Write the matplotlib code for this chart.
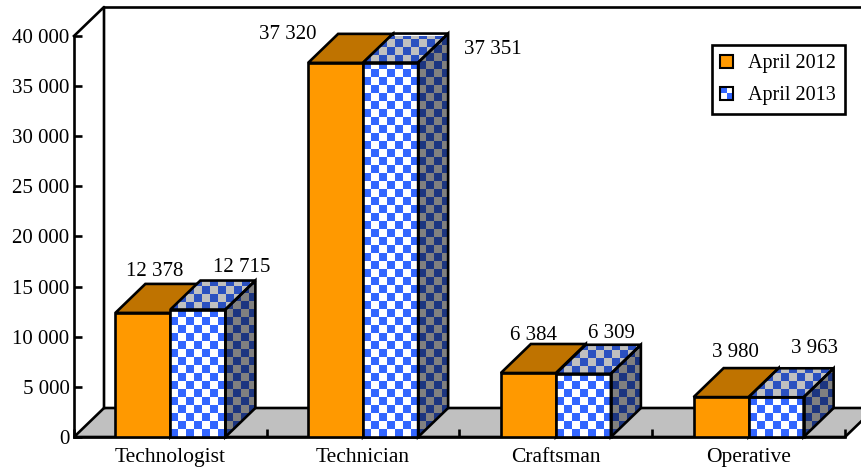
import matplotlib
matplotlib.use('Agg')
import matplotlib.pyplot as plt
from matplotlib.collections import PolyCollection
from matplotlib.legend_handler import HandlerBase
from matplotlib.patches import Patch, Polygon, Rectangle

categories = ['Technologist', 'Technician', 'Craftsman', 'Operative']
april_2012 = [12378, 37320, 6384, 3980]
april_2013 = [12715, 37351, 6309, 3963]
yticks = [0, 5000, 10000, 15000, 20000, 25000, 30000, 35000, 40000]
# label offsets from the front top corner of each bar, in pixels
off_2012 = [(39, 41), (-20, 28), (33, 38), (42, 45)]
off_2013 = [(16, 42), (75, 13), (1, 40), (11, 49)]

plt.rcParams['font.family'] = ['Liberation Serif', 'DejaVu Serif']
W, H = 861, 468
fig = plt.figure(figsize=(W / 100, H / 100), dpi=100)
# axes = front frame of the 3d box, in pixels
L, R, B, T = 74, 845, 437, 36
ax = fig.add_axes([L / W, (H - B) / H, (R - L) / W, (B - T) / H])
ax.set_xlim(0, 4)
ax.set_ylim(0, 40000)
px = 4 / (R - L)
py = 40000 / (B - T)
dx, dy = 30 * px, 29 * py
LW = 1.9

for s in ['top', 'right']:
    ax.spines[s].set_visible(False)
for s in ['left', 'bottom']:
    ax.spines[s].set_linewidth(LW)

# floor and back wall
ax.add_patch(Polygon([(0, 0), (dx, dy), (4 + dx, dy), (4, 0)], fc='#c0c0c0', ec='k', lw=LW,
                     clip_on=False, zorder=1, joinstyle='miter'))
ax.plot([0, dx, dx], [40000, 40000 + dy, dy], color='k', lw=LW, clip_on=False, zorder=1.5)
ax.plot([dx, 4 + dx], [40000 + dy, 40000 + dy], color='k', lw=LW, clip_on=False, zorder=1.5)

ax.set_yticks(yticks)
ax.set_yticklabels([f'{v:,}'.replace(',', ' ') for v in yticks])
ax.tick_params(axis='y', direction='in', length=6, width=LW, labelsize=15, pad=3.2)
ax.set_xticks([0, 1, 2, 3, 4])
ax.set_xticklabels([])
ax.tick_params(axis='x', direction='in', length=6, width=LW)
ax.set_xticks([0.5, 1.5, 2.5, 3.5], minor=True)
ax.set_xticklabels(categories, minor=True)
ax.tick_params(axis='x', which='minor', length=0, labelsize=15.5, pad=8)


def checker(outline, c1, c2, z):
    """Axis aligned 8 px squares, clipped to the outline polygon."""
    xs = [p[0] for p in outline]
    ys = [p[1] for p in outline]
    clip = Polygon(outline, fc='none', ec='none', zorder=z, clip_on=False)
    ax.add_patch(clip)
    w, h = 8 * px, 8 * py
    cells = {0: [], 1: []}
    nx = int((max(xs) - min(xs)) / w) + 1
    ny = int((max(ys) - min(ys)) / h) + 1
    for i in range(nx):
        for j in range(ny):
            x = min(xs) + i * w
            y = min(ys) + j * h
            cells[(i + j) % 2].append([(x, y), (x + w, y), (x + w, y + h), (x, y + h)])
    for key, col in ((0, c1), (1, c2)):
        pc = PolyCollection(cells[key], facecolors=col, edgecolors='none', antialiaseds=False, zorder=z)
        ax.add_collection(pc)
        pc.set_clip_path(clip)


bw = 55 * px
for i, (v1, v2) in enumerate(zip(april_2012, april_2013)):
    z = 3 + i
    x1 = i + 0.5 - bw
    x2 = i + 0.5
    # orange bar
    ax.add_patch(Polygon([(x1 + bw, v1), (x1 + bw + dx, v1 + dy), (x1 + bw + dx, dy), (x1 + bw, 0)],
                         fc='#7f4d00', ec='k', lw=LW, zorder=z, clip_on=False))
    ax.add_patch(Polygon([(x1, v1), (x1 + dx, v1 + dy), (x1 + bw + dx, v1 + dy), (x1 + bw, v1)],
                         fc='#bf7300', ec='k', lw=LW, zorder=z, clip_on=False))
    ax.bar(x1, v1, bw, align='edge', color='#ff9900', edgecolor='k', linewidth=LW, zorder=z + 0.1)
    # checkered bar
    front = [(x2, 0), (x2 + bw, 0), (x2 + bw, v2), (x2, v2)]
    side = [(x2 + bw, v2), (x2 + bw + dx, v2 + dy), (x2 + bw + dx, dy), (x2 + bw, 0)]
    top = [(x2, v2), (x2 + dx, v2 + dy), (x2 + bw + dx, v2 + dy), (x2 + bw, v2)]
    ax.add_patch(Polygon(front, fc='white', ec='none', zorder=z + 0.2))
    checker(front, '#3366ff', 'white', z + 0.3)
    checker(side, '#1c3580', '#808080', z + 0.3)
    checker(top, '#2a50c0', '#c0c0c0', z + 0.3)
    for outline in (front, side, top):
        ax.add_patch(Polygon(outline, fc='none', ec='k', lw=LW, zorder=z + 0.4, clip_on=False))
    # value labels
    ax.annotate(f'{v1:,}'.replace(',', ' '), (x1, v1), xytext=off_2012[i],
                textcoords='offset pixels', ha='center', va='center', fontsize=15, zorder=20,
                annotation_clip=False)
    ax.annotate(f'{v2:,}'.replace(',', ' '), (x2 + bw, v2), xytext=off_2013[i],
                textcoords='offset pixels', ha='center', va='center', fontsize=15, zorder=20,
                annotation_clip=False)


class SwatchHandler(HandlerBase):
    def create_artists(self, legend, orig, xd, yd, width, height, fontsize, trans):
        s = 9.5
        x, y = (width - s) / 2 - xd - 1.5, (height - s) / 2 - yd
        if orig.get_label() == 'April 2013':
            parts = [Rectangle((x, y), s, s, fc='white', ec='none', transform=trans),
                     Rectangle((x, y + s / 2), s / 2, s / 2, fc='#3366ff', ec='none', transform=trans),
                     Rectangle((x + s / 2, y), s / 2, s / 2, fc='#3366ff', ec='none', transform=trans)]
        else:
            parts = [Rectangle((x, y), s, s, fc=orig.get_facecolor(), ec='none', transform=trans)]
        parts.append(Rectangle((x, y), s, s, fc='none', ec='k', lw=1.5, transform=trans))
        return parts


h1 = Patch(fc='#ff9900', label='April 2012')
h2 = Patch(fc='#3366ff', label='April 2013')
leg = ax.legend(handles=[h1, h2], handler_map={Patch: SwatchHandler()}, loc='upper right',
                bbox_to_anchor=(845 / W, (H - 45) / H), bbox_transform=fig.transFigure,
                fontsize=14.5, fancybox=False, framealpha=1, edgecolor='k', borderaxespad=0,
                handlelength=0.8, handletextpad=0.55, labelspacing=0.65, borderpad=0.45)
leg.get_frame().set_linewidth(LW)
leg.set_zorder(30)

fig.savefig('out.png', dpi=100)
